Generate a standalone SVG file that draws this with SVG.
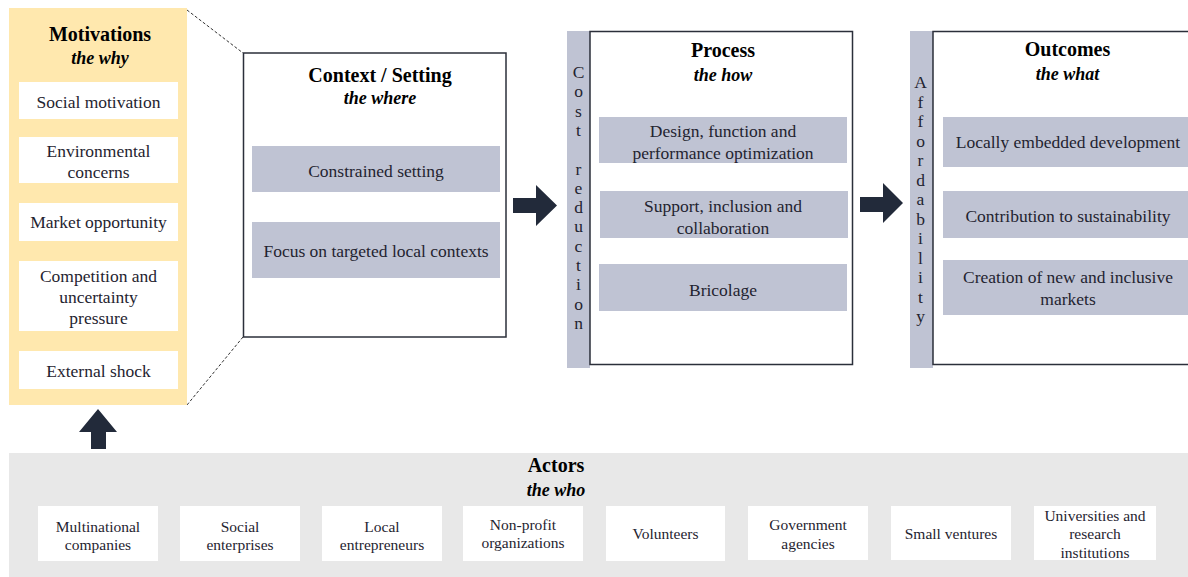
<svg xmlns="http://www.w3.org/2000/svg" width="1188" height="577" viewBox="0 0 1188 577">
<style>
text{font-family:"Liberation Serif","Times New Roman",serif;fill:#1f2430;text-anchor:middle}
.t{font-size:20px;font-weight:bold;fill:#000}
.s{font-size:18px;font-weight:bold;font-style:italic;fill:#000}
.b{font-size:17.5px}
.a{font-size:15.5px}
.v{font-size:17.5px}
.wb{fill:#fff}
.gb{fill:#bfc3d3}
.frame{fill:#fff;stroke:#2b2f3a;stroke-width:1.5}
.bar{fill:#bfc3d3}
.arrow{fill:#222a3a}
.dash{stroke:#333;stroke-width:1;stroke-dasharray:3 2;fill:none}
</style>
<rect width="1188" height="577" fill="#fff"/>
<g id="connectors">
<line class="dash" x1="187" y1="10" x2="243" y2="53"/>
<line class="dash" x1="243" y1="337" x2="187" y2="405"/>
<polygon class="arrow" points="513,198 536,198 536,185 557,205.5 536,226 536,213 513,213"/>
<polygon class="arrow" points="860,197 883,197 883,183 903,203 883,223 883,212 860,212"/>
<polygon class="arrow" points="98,409 117,432 106,432 106,449 91,449 91,432 79,432"/>
</g>
<g id="motivations">
<rect x="9" y="8" width="178" height="397" fill="#ffe8ae"/>
<text class="t" x="100" y="41">Motivations</text>
<text class="s" x="100" y="64">the why</text>
<rect class="wb" x="19" y="82" width="159" height="37"/>
<text class="b" x="98.5" y="108">Social motivation</text>
<rect class="wb" x="19" y="137" width="159" height="46"/>
<text class="b" x="98.5" y="157">Environmental</text>
<text class="b" x="98.5" y="178">concerns</text>
<rect class="wb" x="19" y="203" width="159" height="38"/>
<text class="b" x="98.5" y="228">Market opportunity</text>
<rect class="wb" x="19" y="261" width="159" height="70"/>
<text class="b" x="98.5" y="281.5">Competition and</text>
<text class="b" x="98.5" y="303">uncertainty</text>
<text class="b" x="98.5" y="324">pressure</text>
<rect class="wb" x="19" y="351" width="159" height="38"/>
<text class="b" x="98.5" y="377">External shock</text>
</g>
<g id="context">
<rect class="frame" x="243.5" y="53" width="262.5" height="284"/>
<text class="t" x="380" y="82">Context / Setting</text>
<text class="s" x="380" y="104">the where</text>
<rect class="gb" x="252" y="146" width="248" height="46"/>
<text class="b" x="376" y="177">Constrained setting</text>
<rect class="gb" x="252" y="222" width="248" height="56"/>
<text class="b" x="376" y="257">Focus on targeted local contexts</text>
</g>
<g id="cost-reduction">
<rect class="bar" x="567" y="31" width="23" height="337"/>
<text class="v" x="578.5" y="78">C<tspan x="578.5" dy="19.3">o</tspan><tspan x="578.5" dy="19.3">s</tspan><tspan x="578.5" dy="19.3">t</tspan><tspan x="578.5" dy="38.6">r</tspan><tspan x="578.5" dy="19.3">e</tspan><tspan x="578.5" dy="19.3">d</tspan><tspan x="578.5" dy="19.3">u</tspan><tspan x="578.5" dy="19.3">c</tspan><tspan x="578.5" dy="19.3">t</tspan><tspan x="578.5" dy="19.3">i</tspan><tspan x="578.5" dy="19.3">o</tspan><tspan x="578.5" dy="19.3">n</tspan></text>
</g>
<g id="process">
<rect class="frame" x="590" y="31.5" width="262.5" height="333"/>
<text class="t" x="723" y="57">Process</text>
<text class="s" x="723" y="81">the how</text>
<rect class="gb" x="599" y="117" width="248" height="46"/>
<text class="b" x="723" y="137">Design, function and</text>
<text class="b" x="723" y="158.5">performance optimization</text>
<rect class="gb" x="600" y="191" width="248" height="47"/>
<text class="b" x="723" y="212">Support, inclusion and</text>
<text class="b" x="723" y="233.5">collaboration</text>
<rect class="gb" x="599" y="264" width="248" height="47"/>
<text class="b" x="723" y="296">Bricolage</text>
</g>
<g id="affordability">
<rect class="bar" x="910" y="31" width="23" height="337"/>
<text class="v" x="920.5" y="88">A<tspan x="920.5" dy="19.5">f</tspan><tspan x="920.5" dy="19.5">f</tspan><tspan x="920.5" dy="19.5">o</tspan><tspan x="920.5" dy="19.5">r</tspan><tspan x="920.5" dy="19.5">d</tspan><tspan x="920.5" dy="19.5">a</tspan><tspan x="920.5" dy="19.5">b</tspan><tspan x="920.5" dy="19.5">i</tspan><tspan x="920.5" dy="19.5">l</tspan><tspan x="920.5" dy="19.5">i</tspan><tspan x="920.5" dy="19.5">t</tspan><tspan x="920.5" dy="19.5">y</tspan></text>
</g>
<g id="outcomes">
<rect class="frame" x="933" y="31.5" width="270" height="333"/>
<text class="t" x="1067.5" y="56">Outcomes</text>
<text class="s" x="1067.5" y="80">the what</text>
<rect class="gb" x="943" y="117" width="250" height="50"/>
<text class="b" x="1068" y="148">Locally embedded development</text>
<rect class="gb" x="943" y="191" width="250" height="47"/>
<text class="b" x="1068" y="222">Contribution to sustainability</text>
<rect class="gb" x="943" y="260" width="250" height="55"/>
<text class="b" x="1068" y="283">Creation of new and inclusive</text>
<text class="b" x="1068" y="305">markets</text>
</g>
<g id="actors">
<rect x="9" y="453" width="1179" height="124" fill="#e8e8e8"/>
<text class="t" x="556" y="472">Actors</text>
<text class="s" x="556" y="496">the who</text>
<rect class="wb" x="38" y="506" width="120" height="55"/>
<text class="a" x="98" y="532">Multinational</text>
<text class="a" x="98" y="550">companies</text>
<rect class="wb" x="180" y="506" width="120" height="55"/>
<text class="a" x="240" y="532">Social</text>
<text class="a" x="240" y="550">enterprises</text>
<rect class="wb" x="322" y="506" width="120" height="55"/>
<text class="a" x="382" y="532">Local</text>
<text class="a" x="382" y="550">entrepreneurs</text>
<rect class="wb" x="463" y="506" width="120" height="55"/>
<text class="a" x="523" y="530">Non-profit</text>
<text class="a" x="523" y="548">organizations</text>
<rect class="wb" x="606" y="506" width="119" height="55"/>
<text class="a" x="665.5" y="539">Volunteers</text>
<rect class="wb" x="748" y="506" width="120" height="54"/>
<text class="a" x="808" y="530">Government</text>
<text class="a" x="808" y="549">agencies</text>
<rect class="wb" x="891" y="506" width="120" height="54"/>
<text class="a" x="951" y="539">Small ventures</text>
<rect class="wb" x="1034" y="506" width="122" height="54"/>
<text class="a" x="1095" y="521">Universities and</text>
<text class="a" x="1095" y="539">research</text>
<text class="a" x="1095" y="558">institutions</text>
</g>
</svg>
